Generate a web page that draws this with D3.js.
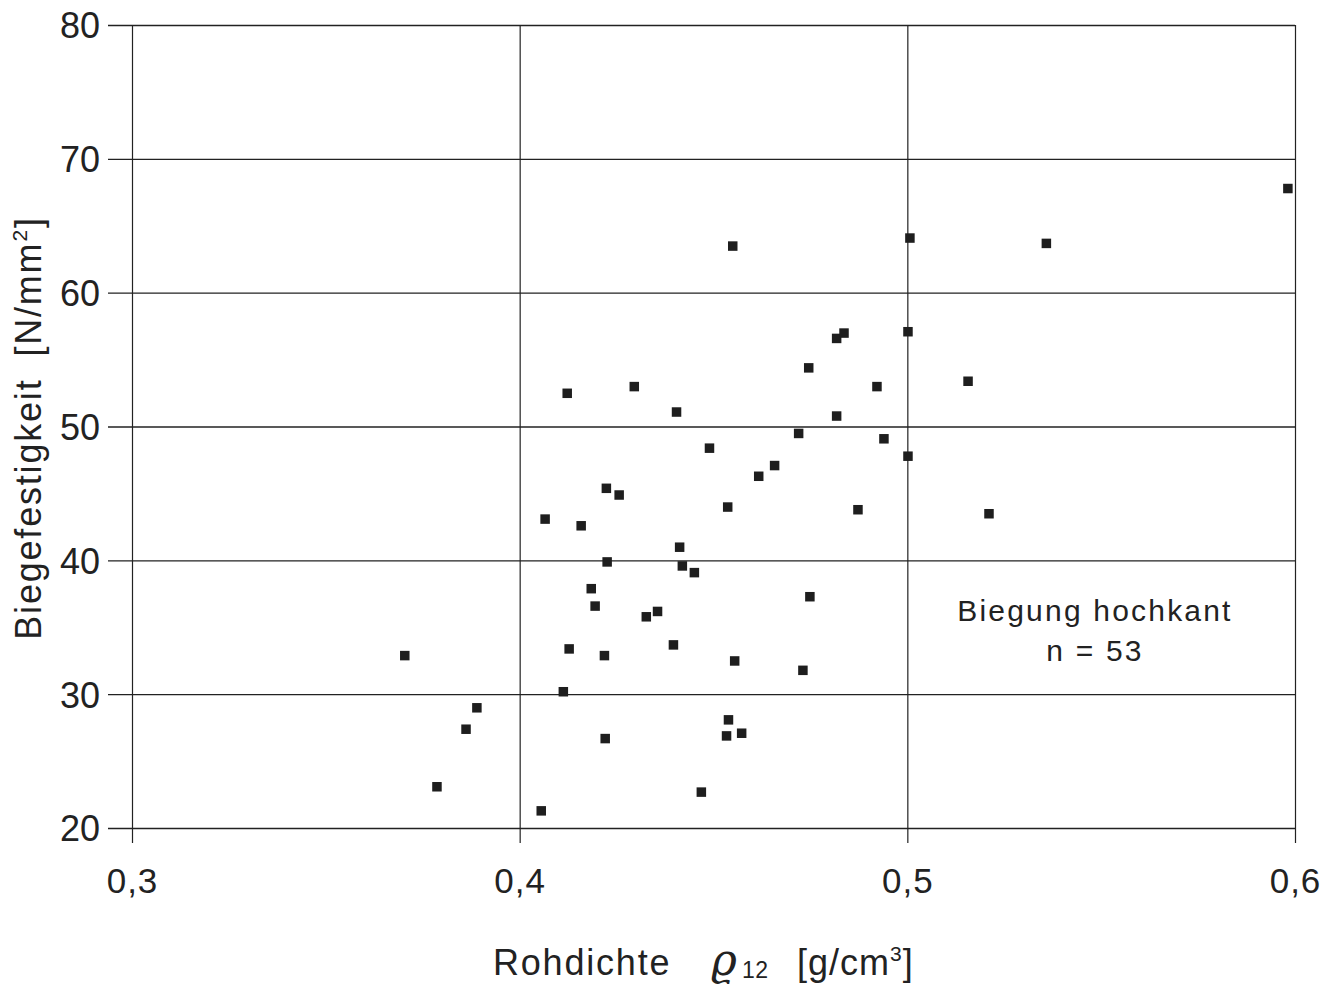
<!DOCTYPE html>
<html>
<head>
<meta charset="utf-8">
<script src="https://cdn.jsdelivr.net/npm/d3@7"></script>
<style>
  body { margin: 0; background: #fff; }
  svg { display: block; font-family: "Liberation Sans", Arial, sans-serif; }
</style>
</head>
<body>
<svg id="chart"></svg>
<script>
// Rohdichte [g/cm3] vs. Biegefestigkeit [N/mm2]
const density = [
  0.3703, 0.3786, 0.3861, 0.3889, 0.4055, 0.4065, 0.4112, 0.4122, 0.4127, 0.4158,
  0.4184, 0.4194, 0.4218, 0.4220, 0.4223, 0.4225, 0.4256, 0.4295, 0.4326, 0.4355,
  0.4396, 0.4404, 0.4412, 0.4419, 0.4450, 0.4468, 0.4489, 0.4533, 0.4536, 0.4538,
  0.4549, 0.4554, 0.4572, 0.4616, 0.4657, 0.4719, 0.4730, 0.4745, 0.4748, 0.4817,
  0.4817, 0.4836, 0.4872, 0.4921, 0.4939, 0.5001, 0.5001, 0.5006, 0.5156, 0.5210,
  0.5358, 0.5981
];
const strength = [
  32.9, 23.1, 27.4, 29.0, 21.3, 43.1, 30.2, 52.5, 33.4, 42.6,
  37.9, 36.6, 32.9, 26.7, 45.4, 39.9, 44.9, 53.0, 35.8, 36.2,
  33.7, 51.1, 41.0, 39.6, 39.1, 22.7, 48.4, 26.9, 44.0, 28.1,
  63.5, 32.5, 27.1, 46.3, 47.1, 49.5, 31.8, 54.4, 37.3, 56.6,
  50.8, 57.0, 43.8, 53.0, 49.1, 57.1, 47.8, 64.1, 53.4, 43.5,
  63.7, 67.8
];
const xTicks = [0.3, 0.4, 0.5, 0.6];
const yTicks = [20, 30, 40, 50, 60, 70, 80];
const noteLines = ["Biegung hochkant", "n = 53"];

const W = 1339, H = 991;
const margin = { top: 25, right: 44, bottom: 163, left: 132 };
const width = W - margin.left - margin.right;
const height = H - margin.top - margin.bottom;

const svg = d3.select("#chart").attr("width", W).attr("height", H);
const g = svg.append("g").attr("transform", `translate(${margin.left},${margin.top})`);

const x = d3.scaleLinear().domain([0.3, 0.6]).range([0, width]);
const y = d3.scaleLinear().domain([20, 80]).range([height, 0]);

const comma = d => d3.format(".1f")(d).replace(".", ",");

// y gridlines, sticking out to the left as ticks
const yAxis = g.append("g")
  .attr("transform", "translate(-24,0)")
  .call(d3.axisLeft(y).tickValues(yTicks).tickSize(-(width + 24)).tickPadding(8));
yAxis.select(".domain").remove();
yAxis.selectAll("line").attr("stroke", "#222").attr("stroke-width", 1.4);
yAxis.selectAll("text").attr("font-size", 36).attr("fill", "#222").attr("dy", "0.36em");

// x gridlines, sticking out below
const xAxis = g.append("g")
  .attr("transform", `translate(0,${height + 15})`)
  .call(d3.axisBottom(x).tickValues(xTicks).tickFormat(comma).tickSize(-(height + 15)).tickPadding(25));
xAxis.select(".domain").remove();
xAxis.selectAll("line").attr("stroke", "#222").attr("stroke-width", 1.2);
xAxis.selectAll("text").attr("font-size", 35).attr("fill", "#222").attr("letter-spacing", 1);

// points
const pts = density.map((d, i) => [d, strength[i]]);
g.selectAll("rect.pt")
  .data(pts)
  .join("rect")
  .attr("class", "pt")
  .attr("x", d => x(d[0]) - 4.5)
  .attr("y", d => y(d[1]) - 4.5)
  .attr("width", 9.5)
  .attr("height", 9.5)
  .attr("fill", "#1e1e1e");

// note
g.append("text")
  .attr("y", y(35.47))
  .attr("text-anchor", "middle")
  .attr("font-size", 30)
  .attr("letter-spacing", 2.2)
  .attr("fill", "#222")
  .selectAll("tspan")
  .data(noteLines)
  .join("tspan")
  .attr("x", x(0.5484))
  .attr("dy", (d, i) => i ? 40 : 0)
  .text(d => d);

// axis titles
const xt = svg.append("text")
  .attr("y", 975)
  .attr("font-size", 36)
  .attr("letter-spacing", 1.8)
  .attr("fill", "#222");
xt.append("tspan").attr("x", 493).text("Rohdichte");
xt.append("tspan").attr("x", 711).attr("font-family", "DejaVu Serif").attr("font-style", "italic")
  .attr("font-size", 44).attr("letter-spacing", 0).text("ϱ");
xt.append("tspan").attr("x", 742).attr("font-size", 23).attr("letter-spacing", 0.5).attr("dy", 3).text("12");
xt.append("tspan").attr("x", 797).attr("dy", -3).attr("letter-spacing", 1).text("[g/cm");
xt.append("tspan").attr("font-size", 21).attr("dy", -14).attr("letter-spacing", 1).text("3");
xt.append("tspan").attr("dy", 14).text("]");

const yt = svg.append("text")
  .attr("transform", "translate(41,428) rotate(-90)")
  .attr("text-anchor", "middle")
  .attr("font-size", 36)
  .attr("letter-spacing", 1.8)
  .attr("fill", "#222");
yt.append("tspan").text("Biegefestigkeit");
yt.append("tspan").attr("dx", 22).text("[N/mm");
yt.append("tspan").attr("font-size", 21).attr("dy", -14).text("2");
yt.append("tspan").attr("dy", 14).text("]");
</script>
</body>
</html>
